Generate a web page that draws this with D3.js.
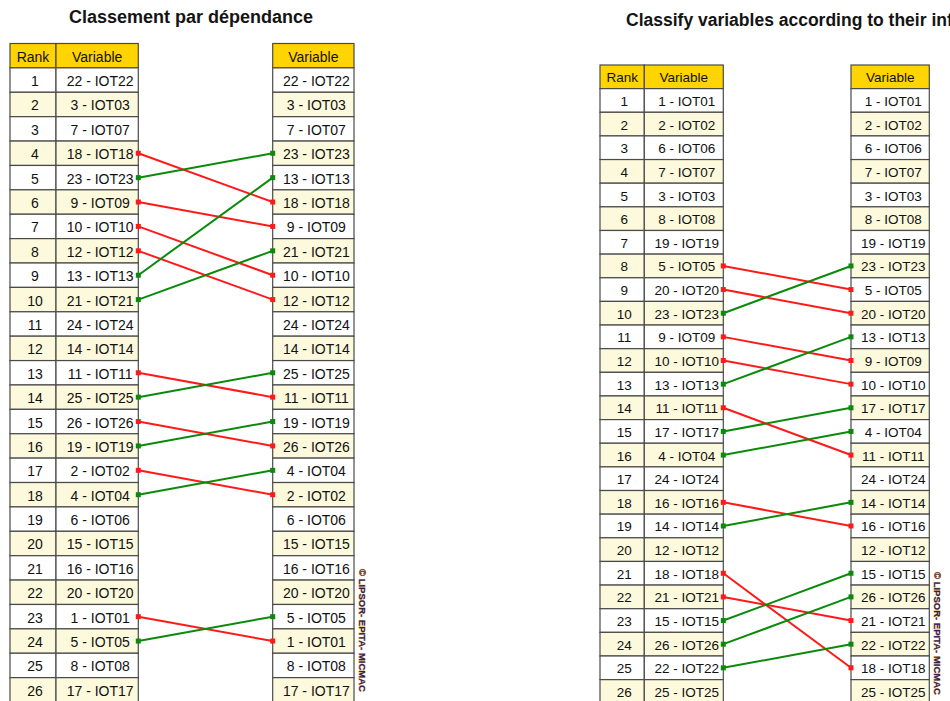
<!DOCTYPE html>
<html>
<head>
<meta charset="utf-8">
<script src="https://cdn.jsdelivr.net/npm/d3@7"></script>
<style>
  html, body { margin: 0; padding: 0; background: #fff; }
  svg { display: block; }
</style>
</head>
<body>
<svg id="chart" width="950" height="701"></svg>
<script>
// ---------- DATA ----------
const ranks = d3.range(1, 27);

const depTitle = "Classement par dépendance";
const depBefore = ["22 - IOT22","3 - IOT03","7 - IOT07","18 - IOT18","23 - IOT23","9 - IOT09","10 - IOT10","12 - IOT12","13 - IOT13","21 - IOT21","24 - IOT24","14 - IOT14","11 - IOT11","25 - IOT25","26 - IOT26","19 - IOT19","2 - IOT02","4 - IOT04","6 - IOT06","15 - IOT15","16 - IOT16","20 - IOT20","1 - IOT01","5 - IOT05","8 - IOT08","17 - IOT17"];
const depAfter  = ["22 - IOT22","3 - IOT03","7 - IOT07","23 - IOT23","13 - IOT13","18 - IOT18","9 - IOT09","21 - IOT21","10 - IOT10","12 - IOT12","24 - IOT24","14 - IOT14","25 - IOT25","11 - IOT11","19 - IOT19","26 - IOT26","4 - IOT04","2 - IOT02","6 - IOT06","15 - IOT15","16 - IOT16","20 - IOT20","5 - IOT05","1 - IOT01","8 - IOT08","17 - IOT17"];

const infTitle = "Classify variables according to their influences";
const infBefore = ["1 - IOT01","2 - IOT02","6 - IOT06","7 - IOT07","3 - IOT03","8 - IOT08","19 - IOT19","5 - IOT05","20 - IOT20","23 - IOT23","9 - IOT09","10 - IOT10","13 - IOT13","11 - IOT11","17 - IOT17","4 - IOT04","24 - IOT24","16 - IOT16","14 - IOT14","12 - IOT12","18 - IOT18","21 - IOT21","15 - IOT15","26 - IOT26","22 - IOT22","25 - IOT25"];
const infAfter  = ["1 - IOT01","2 - IOT02","6 - IOT06","7 - IOT07","3 - IOT03","8 - IOT08","19 - IOT19","23 - IOT23","5 - IOT05","20 - IOT20","13 - IOT13","9 - IOT09","10 - IOT10","17 - IOT17","4 - IOT04","11 - IOT11","24 - IOT24","14 - IOT14","16 - IOT16","12 - IOT12","15 - IOT15","26 - IOT26","21 - IOT21","22 - IOT22","18 - IOT18","25 - IOT25"];

const headerLabels = ["Rank", "Variable"];
const watermark = "© LIPSOR- EPITA- MICMAC";

// ---------- STYLE ----------
const C = {
  header: "#ffd400",
  even: "#fdf9dc",
  odd: "#ffffff",
  border: "#4a4a4a",
  text: "#111",
  up: "#0a8a0a",
  down: "#ff1a1a"
};

const svg = d3.select("#chart");

function panel(cfg) {
  const g = svg.append("g");
  const y = d3.scaleBand().domain(ranks).range([cfg.top + cfg.rowH, cfg.top + cfg.rowH * 27]).padding(0);
  const yc = r => y(r) + y.bandwidth() / 2;

  // title
  g.append("text")
    .attr("x", cfg.titleX).attr("y", cfg.titleY)
    .attr("text-anchor", cfg.titleAnchor)
    .attr("dominant-baseline", "central")
    .attr("font-family", "'Liberation Sans', Arial, sans-serif")
    .attr("font-weight", "bold")
    .attr("font-size", cfg.titleFs)
    .attr("fill", "#141414")
    .text(cfg.title);

  const cols = [
    { x0: cfg.x0, x1: cfg.xDiv, key: "rank" },
    { x0: cfg.xDiv, x1: cfg.xR, key: "before" },
    { x0: cfg.rx0, x1: cfg.rx1, key: "after" }
  ];

  // header cells
  const hdr = [
    { x0: cfg.x0, x1: cfg.xDiv, label: headerLabels[0] },
    { x0: cfg.xDiv, x1: cfg.xR, label: headerLabels[1] },
    { x0: cfg.rx0, x1: cfg.rx1, label: headerLabels[1] }
  ];
  g.selectAll("rect.hdr").data(hdr).join("rect")
    .attr("x", d => d.x0).attr("y", cfg.top)
    .attr("width", d => d.x1 - d.x0).attr("height", cfg.rowH)
    .attr("fill", C.header).attr("stroke", C.border).attr("stroke-width", 1.2);
  g.selectAll("text.hdr").data(hdr).join("text")
    .attr("x", d => (d.x0 + d.x1) / 2).attr("y", cfg.top + cfg.rowH / 2 + 1)
    .attr("text-anchor", "middle").attr("dominant-baseline", "central")
    .attr("font-family", "'Liberation Sans', Arial, sans-serif")
    .attr("font-size", cfg.fs).attr("fill", C.text)
    .text(d => d.label);

  // body cells
  const cells = [];
  ranks.forEach((r, i) => {
    cols.forEach(c => {
      let label = c.key === "rank" ? String(r) : (c.key === "before" ? cfg.before[i] : cfg.after[i]);
      cells.push({ r, x0: c.x0, x1: c.x1, label, key: c.key });
    });
  });
  g.selectAll("rect.cell").data(cells).join("rect")
    .attr("x", d => d.x0).attr("y", d => y(d.r))
    .attr("width", d => d.x1 - d.x0).attr("height", y.bandwidth())
    .attr("fill", d => d.r % 2 === 0 ? C.even : C.odd)
    .attr("stroke", C.border).attr("stroke-width", 1.2);
  g.selectAll("text.cell").data(cells).join("text")
    .attr("x", d => (d.x0 + d.x1) / 2 + (d.key === "rank" ? 2 : 3))
    .attr("y", d => yc(d.r) + 1)
    .attr("text-anchor", "middle").attr("dominant-baseline", "central")
    .attr("font-family", "'Liberation Sans', Arial, sans-serif")
    .attr("font-size", cfg.fs).attr("fill", C.text)
    .text(d => d.label);

  // connecting lines
  const moves = [];
  cfg.before.forEach((v, i) => {
    const j = cfg.after.indexOf(v);
    if (j !== i) moves.push({ from: ranks[i], to: ranks[j], up: j < i });
  });
  g.selectAll("line.mv").data(moves).join("line")
    .attr("x1", cfg.xR).attr("x2", cfg.rx0)
    .attr("y1", d => yc(d.from)).attr("y2", d => yc(d.to))
    .attr("stroke", d => d.up ? C.up : C.down)
    .attr("stroke-width", 2);
  const ends = moves.flatMap(d => [
    { x: cfg.xR, y: yc(d.from), up: d.up },
    { x: cfg.rx0, y: yc(d.to), up: d.up }
  ]);
  g.selectAll("rect.dot").data(ends).join("rect")
    .attr("x", d => d.x - 2.5).attr("y", d => d.y - 2.5)
    .attr("width", 5).attr("height", 5)
    .attr("fill", d => d.up ? C.up : C.down);

  // watermark
  g.append("text")
    .attr("transform", `translate(${cfg.wmX},${cfg.wmY}) rotate(90)`)
    .attr("font-family", "'Liberation Sans', Arial, sans-serif")
    .attr("font-weight", "bold")
    .attr("font-size", 9.5)
    .attr("fill", "#28245a")
    .attr("stroke", "#e89a3a").attr("stroke-width", 0.6)
    .attr("paint-order", "stroke")
    .attr("dominant-baseline", "central")
    .text(watermark);
}

panel({
  title: depTitle, titleX: 191, titleY: 17, titleAnchor: "middle", titleFs: 18,
  before: depBefore, after: depAfter,
  x0: 10, xDiv: 56, xR: 138.3, rx0: 272.7, rx1: 354,
  top: 43.5, rowH: 24.39, fs: 14,
  wmX: 362, wmY: 569
});

panel({
  title: infTitle, titleX: 626, titleY: 20, titleAnchor: "start", titleFs: 17.5,
  before: infBefore, after: infAfter,
  x0: 600, xDiv: 644.3, xR: 723.3, rx0: 851, rx1: 929.3,
  top: 65, rowH: 23.64, fs: 13.5,
  wmX: 937, wmY: 572
});
</script>
</body>
</html>
